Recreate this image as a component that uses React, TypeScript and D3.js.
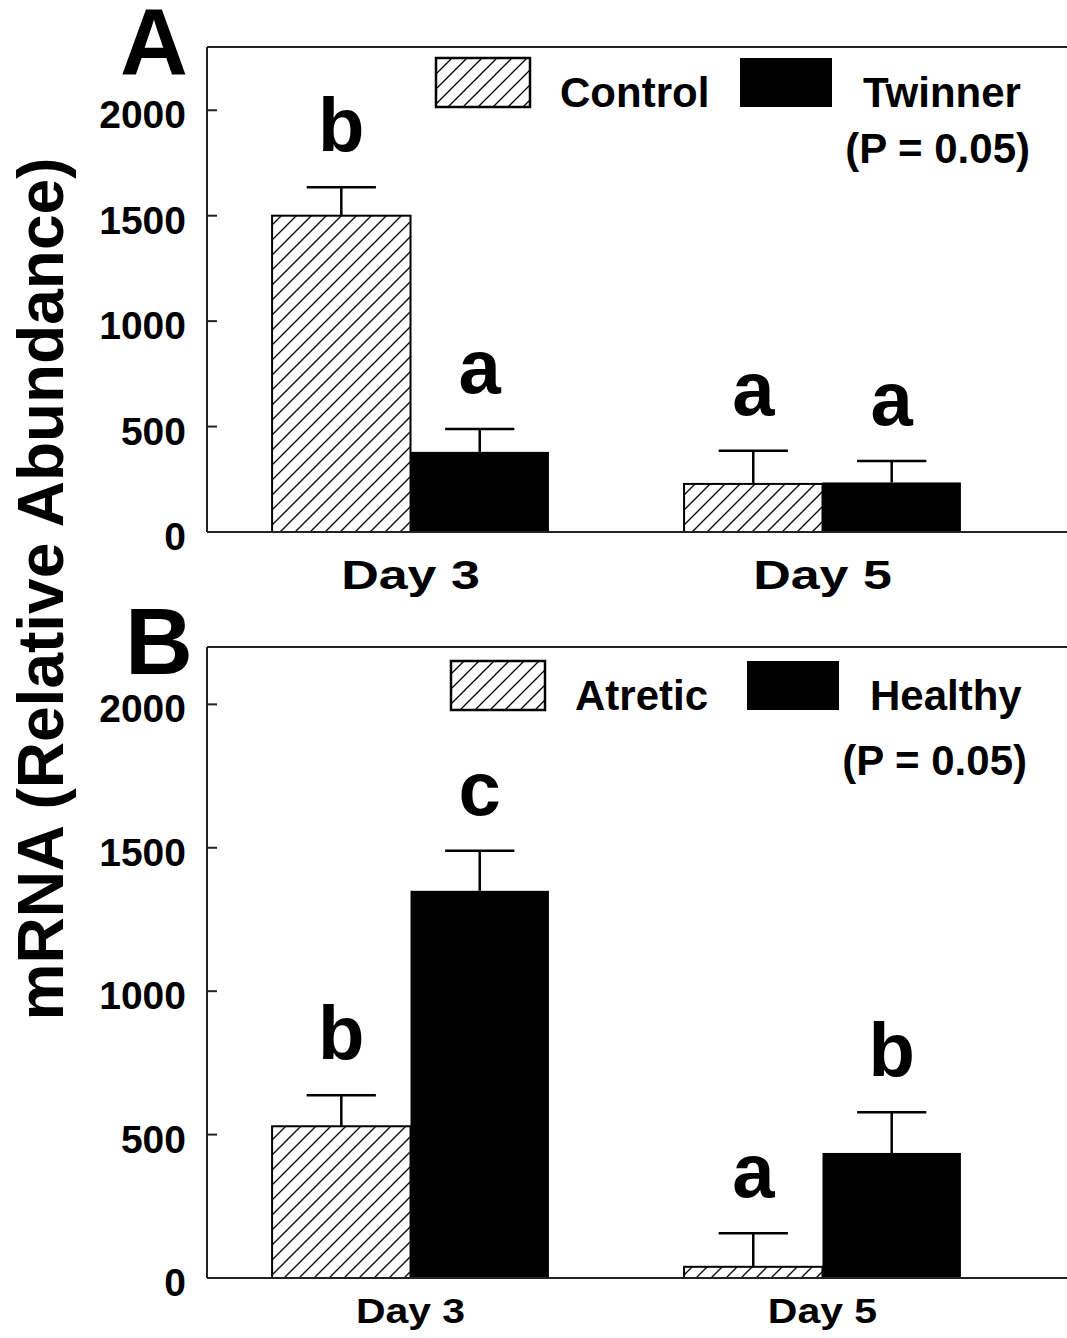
import React from "react";
import * as d3 from "d3";

// Shared categories
const days = ["Day 3", "Day 5"];
const yTicks = [0, 500, 1000, 1500, 2000];

// Panel A: Control vs Twinner
const seriesA = ["Control", "Twinner"];
const controlMean = [1500, 228];
const controlSem = [135, 157];
const twinnerMean = [380, 235];
const twinnerSem = [108, 102];
const lettersControl = ["b", "a"];
const lettersTwinner = ["a", "a"];

// Panel B: Atretic vs Healthy
const seriesB = ["Atretic", "Healthy"];
const atreticMean = [529, 39];
const atreticSem = [108, 117];
const healthyMean = [1350, 436];
const healthySem = [140, 142];
const lettersAtretic = ["b", "a"];
const lettersHealthy = ["c", "b"];

const pLabel = "(P = 0.05)";
const yTitle = "mRNA (Relative Abundance)";

const W = 1067;
const H = 1338;
const FONT = "'Liberation Sans', Arial, Helvetica, sans-serif";
const LEFT = 207;

type Panel = {
  letter: string;
  series: string[];
  means: number[][];
  sems: number[][];
  letters: string[][];
  top: number;
  bottom: number;
  yMax: number;
  legendX: number[];
  legendY: number;
  pRight: number;
  pBaseline: number;
  letterX: number;
  letterBase: number;
  dayFont: number;
  dayScale: number;
  dayBaseline: number;
};

const panels: Panel[] = [
  {
    letter: "A",
    series: seriesA,
    means: [controlMean, twinnerMean],
    sems: [controlSem, twinnerSem],
    letters: [lettersControl, lettersTwinner],
    top: 47,
    bottom: 532,
    yMax: 2300,
    legendX: [436, 560, 740, 863],
    legendY: 58,
    pRight: 1030,
    pBaseline: 163,
    letterX: 120,
    letterBase: 75,
    dayFont: 40,
    dayScale: 1.3,
    dayBaseline: 589,
  },
  {
    letter: "B",
    series: seriesB,
    means: [atreticMean, healthyMean],
    sems: [atreticSem, healthySem],
    letters: [lettersAtretic, lettersHealthy],
    top: 647,
    bottom: 1278,
    yMax: 2200,
    legendX: [451, 575, 747, 870],
    legendY: 661,
    pRight: 1027,
    pBaseline: 775,
    letterX: 125,
    letterBase: 674,
    dayFont: 35,
    dayScale: 1.17,
    dayBaseline: 1323,
  },
];

const x0 = d3
  .scaleBand<string>()
  .domain(days)
  .range([LEFT, 1026])
  .paddingInner(0.328)
  .paddingOuter(0.158);

function PanelChart({ p, idx }: { p: Panel; idx: number }) {
  const y = d3.scaleLinear().domain([0, p.yMax]).range([p.bottom, p.top]);
  const x1 = d3
    .scaleBand<string>()
    .domain(p.series)
    .range([0, x0.bandwidth()]);
  const fills = [`url(#hatch)`, "#000"];
  const capHalf = x1.bandwidth() / 4;

  return (
    <g>
      {/* frame */}
      <line x1={LEFT} x2={W} y1={p.top} y2={p.top} stroke="#222" strokeWidth={2} />
      <line x1={LEFT} x2={LEFT} y1={p.top} y2={p.bottom} stroke="#222" strokeWidth={2} />

      {/* bars, error bars and significance letters */}
      {days.map((day, di) => (
        <g key={day} transform={`translate(${x0(day)},0)`}>
          {p.series.map((s, si) => {
            const bx = x1(s)!;
            const bw = x1.bandwidth();
            const v = p.means[si][di];
            const hi = v + p.sems[si][di];
            const cx = bx + bw / 2;
            return (
              <g key={s}>
                <line x1={cx} x2={cx} y1={y(v)} y2={y(hi)} stroke="#000" strokeWidth={2.5} />
                <line x1={cx - capHalf} x2={cx + capHalf} y1={y(hi)} y2={y(hi)} stroke="#000" strokeWidth={2.5} />
                <rect
                  x={bx}
                  y={y(v)}
                  width={bw}
                  height={y(0) - y(v)}
                  fill={fills[si]}
                  stroke="#000"
                  strokeWidth={si === 0 ? 2 : 0}
                />
                <text
                  x={cx}
                  y={y(hi) - 36}
                  textAnchor="middle"
                  fontFamily={FONT}
                  fontWeight="bold"
                  fontSize={76}
                >
                  {p.letters[si][di]}
                </text>
              </g>
            );
          })}
        </g>
      ))}

      {/* baseline drawn over bar bottoms */}
      <line x1={LEFT} x2={W} y1={p.bottom} y2={p.bottom} stroke="#222" strokeWidth={2} />

      {/* y ticks and labels */}
      {yTicks.map((t) => (
        <g key={t}>
          {t > 0 && (
            <line x1={LEFT} x2={LEFT + 10} y1={y(t)} y2={y(t)} stroke="#222" strokeWidth={2} />
          )}
          <text
            x={186}
            y={y(t) + 18}
            textAnchor="end"
            fontFamily={FONT}
            fontWeight="bold"
            fontSize={39}
          >
            {t}
          </text>
        </g>
      ))}

      {/* x category labels */}
      {days.map((day) => (
        <text
          key={day}
          transform={`translate(${x0(day)! + x0.bandwidth() / 2},${p.dayBaseline}) scale(${p.dayScale},1)`}
          textAnchor="middle"
          fontFamily={FONT}
          fontWeight="bold"
          fontSize={p.dayFont}
        >
          {day}
        </text>
      ))}

      {/* legend */}
      <rect x={p.legendX[0]} y={p.legendY} width={94} height={49} fill="url(#hatch)" stroke="#000" strokeWidth={2.5} />
      <text x={p.legendX[1]} y={p.legendY + 49} fontFamily={FONT} fontWeight="bold" fontSize={42}>
        {p.series[0]}
      </text>
      <rect x={p.legendX[2]} y={p.legendY} width={92} height={49} fill="#000" />
      <text x={p.legendX[3]} y={p.legendY + 49} fontFamily={FONT} fontWeight="bold" fontSize={42}>
        {p.series[1]}
      </text>
      <text x={p.pRight} y={p.pBaseline} textAnchor="end" fontFamily={FONT} fontWeight="bold" fontSize={42}>
        {pLabel}
      </text>

      {/* panel letter */}
      <text x={p.letterX} y={p.letterBase} fontFamily={FONT} fontWeight="bold" fontSize={94}>
        {p.letter}
      </text>
    </g>
  );
}

export default function App() {
  return (
    <svg
      width={W}
      height={H}
      viewBox={`0 0 ${W} ${H}`}
      style={{ position: "absolute", left: 0, top: 0, background: "#fff" }}
    >
      <defs>
        <pattern id="hatch" patternUnits="userSpaceOnUse" width={15} height={15}>
          <rect width={15} height={15} fill="#fff" />
          <path d="M0,15 L15,0 M-2,2 L2,-2 M13,17 L17,13" stroke="#000" strokeWidth={1.3} />
        </pattern>
      </defs>
      <rect width={W} height={H} fill="#fff" />
      {panels.map((p, i) => (
        <PanelChart key={p.letter} p={p} idx={i} />
      ))}
      <text
        transform={`translate(63,589) rotate(-90)`}
        textAnchor="middle"
        fontFamily={FONT}
        fontWeight="bold"
        fontSize={64}
      >
        {yTitle}
      </text>
    </svg>
  );
}
